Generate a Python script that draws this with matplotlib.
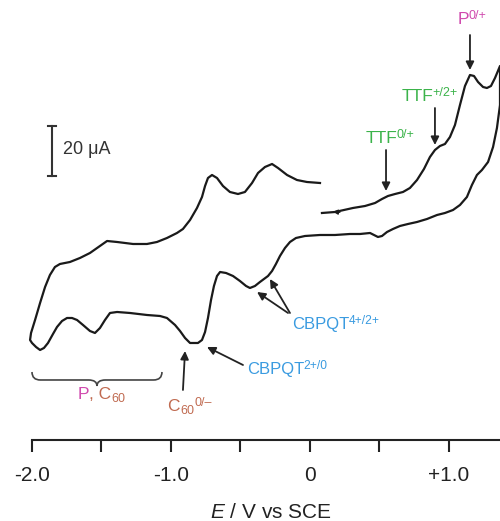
import matplotlib
matplotlib.use('Agg')
import matplotlib.pyplot as plt
from matplotlib.path import Path
from matplotlib.patches import PathPatch

plt.rcParams['font.family'] = ['Liberation Sans', 'DejaVu Sans']
plt.rcParams['mathtext.fontset'] = 'custom'
plt.rcParams['mathtext.rm'] = 'Liberation Sans'
plt.rcParams['mathtext.it'] = 'Liberation Sans:italic'
plt.rcParams['mathtext.bf'] = 'Liberation Sans:bold'

# CV data, potential (V vs SCE) and current (uA)
# forward scan 0.1 V -> +1.37 V
E_fwd = [0.086, 0.180, 0.309, 0.396, 0.468, 0.518, 0.561, 0.612, 0.669, 0.719,
         0.770, 0.820, 0.863, 0.899, 0.935, 0.971, 1.007, 1.043, 1.079, 1.115,
         1.151, 1.180, 1.209, 1.245, 1.273, 1.302, 1.331, 1.367]
I_fwd = [9.2, 9.6, 11.2, 12.0, 13.2, 14.8, 16.0, 16.8, 17.6, 19.2,
         22.4, 26.8, 31.6, 34.4, 36.0, 36.8, 39.6, 44.4, 52.4, 60.0,
         64.4, 64.0, 61.6, 59.6, 59.2, 60.0, 63.2, 68.0]

# reverse scan +1.37 V -> -2.0 V
E_rev = [1.367, 1.345, 1.317, 1.281, 1.237, 1.201, 1.165, 1.129, 1.079, 1.029,
         0.971, 0.914, 0.842, 0.770, 0.705, 0.647, 0.597, 0.554, 0.518, 0.489,
         0.460, 0.432, 0.360, 0.288, 0.180, 0.072, -0.036, -0.101, -0.144, -0.180,
         -0.216, -0.245, -0.273, -0.302, -0.331, -0.360, -0.396, -0.432, -0.460, -0.504,
         -0.554, -0.604, -0.647, -0.669, -0.691, -0.712, -0.734, -0.755, -0.777, -0.806,
         -0.863, -0.899, -0.935, -0.971, -1.029, -1.079, -1.173, -1.295, -1.388, -1.439,
         -1.475, -1.511, -1.547, -1.583, -1.633, -1.676, -1.712, -1.748, -1.784, -1.820,
         -1.849, -1.885, -1.914, -1.942, -1.971, -2.000, -2.014]
I_rev = [52.4, 43.2, 35.6, 29.6, 26.4, 24.4, 20.4, 15.6, 12.4, 10.4,
         9.2, 8.4, 6.8, 5.6, 4.8, 4.0, 2.8, 1.6, 0.0, -0.4,
         0.4, 1.2, 0.8, 0.8, 0.4, 0.4, 0.0, -0.8, -2.4, -4.8,
         -8.0, -11.2, -14.0, -16.0, -17.2, -18.4, -20.0, -20.8, -20.0, -18.0,
         -16.0, -14.8, -14.4, -16.0, -20.0, -25.6, -32.8, -38.4, -41.6, -42.8,
         -42.8, -40.8, -38.0, -35.6, -32.8, -32.0, -31.6, -30.8, -30.4, -30.8,
         -33.6, -36.8, -38.8, -38.0, -35.6, -33.6, -32.8, -32.8, -34.0, -36.4,
         -39.2, -42.8, -44.8, -45.6, -44.4, -42.8, -41.6]

# return scan -2.0 V -> 0.07 V
E_ret = [-2.007, -1.978, -1.942, -1.906, -1.871, -1.835, -1.799, -1.727, -1.655, -1.583,
         -1.511, -1.460, -1.388, -1.273, -1.173, -1.101, -1.029, -0.957, -0.914, -0.863,
         -0.813, -0.777, -0.755, -0.734, -0.705, -0.669, -0.626, -0.576, -0.518, -0.468,
         -0.417, -0.374, -0.324, -0.273, -0.230, -0.165, -0.094, -0.022, 0.072]
I_ret = [-38.8, -33.6, -26.8, -20.4, -15.6, -12.4, -11.2, -10.4, -8.8, -6.8,
         -4.0, -2.0, -2.4, -3.2, -3.2, -2.4, -0.8, 1.2, 2.8, 6.4,
         11.2, 15.6, 20.0, 23.2, 24.4, 23.2, 20.0, 17.6, 16.8, 17.6,
         21.2, 25.2, 27.6, 28.8, 27.2, 24.4, 22.4, 21.6, 21.2]

tick_pos = [-2.0, -1.5, -1.0, -0.5, 0.0, 0.5, 1.0]
tick_labels = ['-2.0', '', '-1.0', '', '0', '', '+1.0']

MAGENTA = '#d04aae'
GREEN = '#3bb34a'
BLUE = '#3a9be0'
BROWN = '#c06a50'
INK = '#1a1a1a'

fig = plt.figure(figsize=(5.0, 5.21), dpi=100)
ax = fig.add_axes([0.064, 0.1555, 0.936, 0.8445])

E_all = E_fwd + E_rev + E_ret
I_all = I_fwd + I_rev + I_ret
ax.plot(E_all, I_all, color=INK, lw=1.6, solid_joinstyle='round', clip_on=False)

ax.set_xlim(-2.0, 1.367)
ax.set_ylim(-81.6, 94.4)

for s in ['left', 'top', 'right']:
    ax.spines[s].set_visible(False)
ax.spines['bottom'].set_linewidth(1.5)
ax.spines['bottom'].set_color('#222222')
ax.set_yticks([])
ax.set_xticks(tick_pos)
ax.set_xticklabels(tick_labels)
ax.tick_params(axis='x', direction='out', length=8.5, width=1.5, color='#222222',
               labelsize=15, pad=10, labelcolor='#222222')

ax.text(0.511, -0.177, r'$\it{E}$ / V vs SCE', transform=ax.transAxes,
        ha='center', va='baseline', fontsize=15, color='#222222')


def chem_label(x, y, base, color, size, sup=None, sub=None, ha='left', sup_dx=0.4):
    """base text with optional subscript and superscript placed after it"""
    t = ax.text(x, y, base, color=color, fontsize=size, ha=ha, va='center')
    small = size * 0.72
    last = t
    if sub:
        last = ax.annotate(sub, xy=(1, 0), xycoords=t, xytext=(0.4, 2.2),
                           textcoords='offset points', ha='left', va='center',
                           color=color, fontsize=small)
    if sup:
        ax.annotate(sup, xy=(1, 1), xycoords=(last, t), xytext=(sup_dx, 1.6),
                    textcoords='offset points', ha='left', va='top',
                    color=color, fontsize=small)
    return t


# scale bar: 20 uA
bar_E = -1.856
bar_lo, bar_hi = 24.0, 44.0
ax.plot([bar_E, bar_E], [bar_lo, bar_hi], color='#333333', lw=1.5)
for yy in (bar_lo, bar_hi):
    ax.plot([bar_E - 0.03, bar_E + 0.03], [yy, yy], color='#333333', lw=1.5)
ax.text(-1.777, 34.4, '20 μA', ha='left', va='center', fontsize=13, color='#333333')

arrow = dict(arrowstyle='-|>', color='#222222', lw=1.3, mutation_scale=12,
             shrinkA=0, shrinkB=0)

chem_label(1.065, 86.4, 'P', MAGENTA, 12.5, sup='0/+', sup_dx=-0.9)
ax.annotate('', xy=(1.151, 66.4), xytext=(1.151, 80.4), arrowprops=arrow)

chem_label(0.662, 55.6, 'TTF', GREEN, 12.5, sup='+/2+', sup_dx=-0.9)
ax.annotate('', xy=(0.899, 36.4), xytext=(0.899, 51.2), arrowprops=arrow)

chem_label(0.403, 38.8, 'TTF', GREEN, 12.5, sup='0/+', sup_dx=-0.9)
ax.annotate('', xy=(0.547, 18.0), xytext=(0.547, 34.4), arrowprops=arrow)

chem_label(-0.129, -35.6, 'CBPQT', BLUE, 12, sup='4+/2+', sup_dx=-0.3)
ax.annotate('', xy=(-0.381, -22.4), xytext=(-0.158, -30.8), arrowprops=arrow)
ax.annotate('', xy=(-0.288, -17.2), xytext=(-0.144, -30.8), arrowprops=arrow)

chem_label(-0.453, -53.6, 'CBPQT', BLUE, 12, sup='2+/0', sup_dx=-0.3)
ax.annotate('', xy=(-0.741, -44.4), xytext=(-0.482, -51.6), arrowprops=arrow)

chem_label(-1.029, -68.4, 'C', BROWN, 12.5, sub='60', sup='0/–')
ax.annotate('', xy=(-0.899, -46.0), xytext=(-0.914, -61.6), arrowprops=arrow)

# start-of-scan marker
ax.annotate('', xy=(0.165, 9.7), xytext=(0.215, 9.5),
            arrowprops=dict(arrowstyle='-|>', color=INK, lw=1.0, mutation_scale=7,
                            shrinkA=0, shrinkB=0))

# brace under the P, C60 region
br_l, br_r = -2.0, -1.065
br_mid = (br_l + br_r) / 2
br_top, br_line, br_tip = -54.4, -57.6, -60.0
d = 0.06
verts = [(br_l, br_top), (br_l, br_line), (br_l + d, br_line),
         (br_mid - d, br_line), (br_mid, br_line), (br_mid, br_tip),
         (br_mid, br_line), (br_mid + d, br_line),
         (br_r - d, br_line), (br_r, br_line), (br_r, br_top)]
codes = [Path.MOVETO, Path.CURVE3, Path.CURVE3,
         Path.LINETO, Path.CURVE3, Path.CURVE3,
         Path.CURVE3, Path.CURVE3,
         Path.LINETO, Path.CURVE3, Path.CURVE3]
ax.add_patch(PathPatch(Path(verts, codes), facecolor='none', edgecolor='#444444',
                       lw=1.2, clip_on=False))

ax.text(-1.59, -63.6, 'P', color=MAGENTA, fontsize=12.5, ha='right', va='center')
chem_label(-1.59, -63.6, ', C', BROWN, 12.5, sub='60')

fig.savefig('out.png', dpi=100)
